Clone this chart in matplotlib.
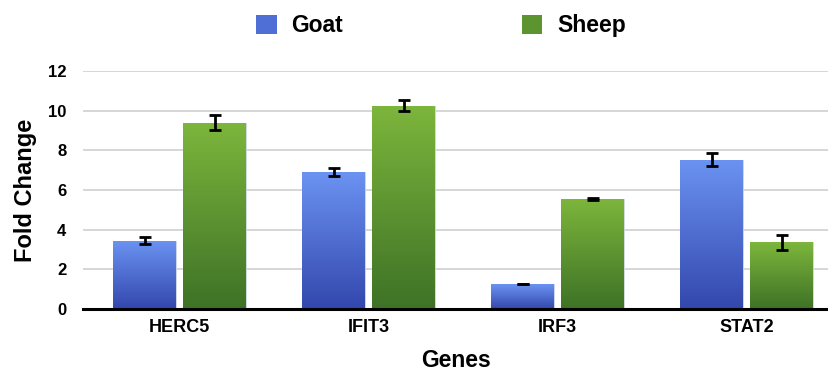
import matplotlib
matplotlib.use("Agg")
import matplotlib.pyplot as plt
import numpy as np
from matplotlib.colors import LinearSegmentedColormap
from matplotlib.patches import Patch

plt.rcParams['font.family'] = ['Liberation Sans', 'DejaVu Sans']
plt.rcParams['font.weight'] = 'bold'

genes = ["HERC5", "IFIT3", "IRF3", "STAT2"]
goat = [3.45, 6.89, 1.26, 7.53]
goat_err = [0.18, 0.20, 0.02, 0.32]
sheep = [9.40, 10.25, 5.55, 3.36]
sheep_err = [0.37, 0.29, 0.03, 0.39]
series_names = ["Goat", "Sheep"]

blue_top, blue_bot = "#6b93f2", "#3347ad"
green_top, green_bot = "#7db63c", "#3e7226"

W, H = 829, 371
fig = plt.figure(figsize=(W / 100, H / 100), dpi=100)
ax = fig.add_axes([83 / W, 1 - 309 / H, 746 / W, 238 / H])

x = np.arange(len(genes))
w = 0.333
off = 0.185

def grad_bars(xpos, vals, errs, ctop, cbot, label):
    bars = ax.bar(xpos, vals, width=w, color=cbot, edgecolor="#d8e0f0", linewidth=0.6,
                  label=label, zorder=3)
    cmap = LinearSegmentedColormap.from_list("g", [cbot, ctop])
    grad = np.linspace(0, 1, 256).reshape(-1, 1)
    for b in bars:
        x0, y0 = b.get_x(), b.get_y()
        bw, bh = b.get_width(), b.get_height()
        im = ax.imshow(grad, cmap=cmap, origin="lower", aspect="auto",
                       extent=[x0, x0 + bw, y0, y0 + bh], zorder=3.1)
        im.set_clip_path(b)
    ax.errorbar(xpos, vals, yerr=errs, fmt="none", ecolor="black", elinewidth=2,
                capsize=4.3, capthick=2, zorder=5)
    return bars

grad_bars(x - off, goat, goat_err, blue_top, blue_bot, series_names[0])
grad_bars(x + off, sheep, sheep_err, green_top, green_bot, series_names[1])

ax.set_xlim(-0.511, 3.436)
ax.set_ylim(0, 12)
ax.set_yticks(np.arange(0, 13, 2))
ax.set_xticks(x)
ax.set_xticklabels(genes, fontsize=13, fontweight="bold")
for t in ax.get_yticklabels():
    t.set_fontsize(12)
    t.set_fontweight("bold")
ax.tick_params(axis="y", length=0, pad=12)
ax.tick_params(axis="x", length=0, pad=7)
ax.grid(axis="y", color="#d0d0d0", linewidth=1.2, zorder=0)
ax.set_axisbelow(True)
for s in ["left", "right", "top"]:
    ax.spines[s].set_visible(False)
ax.spines["bottom"].set_linewidth(2.2)
ax.spines["bottom"].set_color("black")
ax.spines["bottom"].set_zorder(6)

ax.set_ylabel("Fold Change", fontsize=17, fontweight="bold", va="center")
ax.yaxis.set_label_coords(-0.077, 0.5)
ax.set_xlabel("Genes", fontsize=16.5, fontweight="bold", va="center")
ax.xaxis.set_label_coords(0.5, -0.218)

handles = [Patch(facecolor="#4f6fd6"), Patch(facecolor="#5c9530")]
fig.legend(handles, series_names, loc="upper left", bbox_to_anchor=(256 / W, 1 - 14 / H),
           ncol=2, frameon=False, prop={"size": 16.5, "weight": "bold"},
           borderpad=0, borderaxespad=0,
           handlelength=0.9, handleheight=0.9, handletextpad=0.64, columnspacing=7.8)

fig.savefig("out.png", dpi=100)
